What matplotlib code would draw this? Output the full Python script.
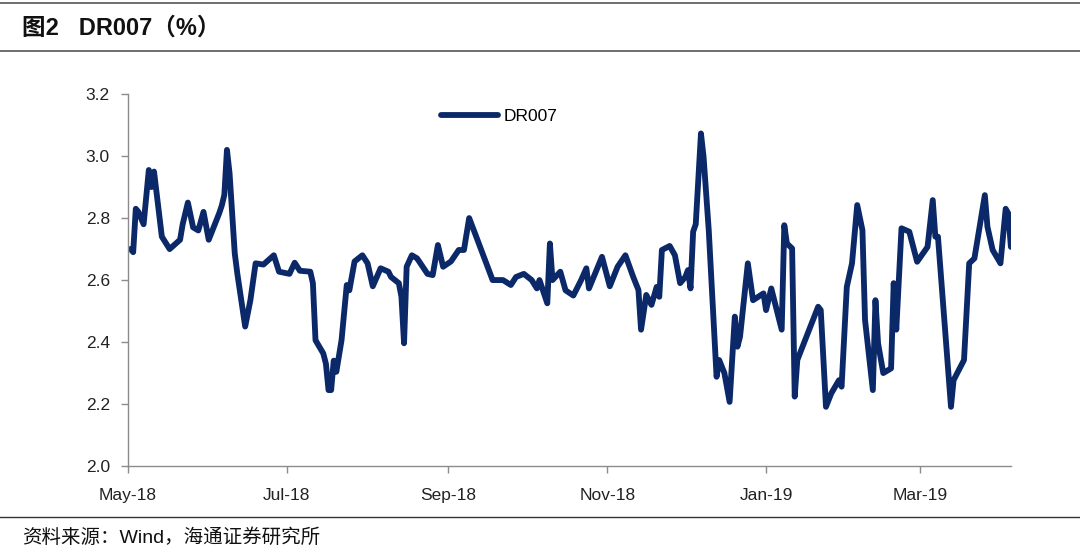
import pandas as pd
import matplotlib.pyplot as plt
import matplotlib.dates as mdates

plt.rcParams['font.family'] = ['Liberation Sans', 'Noto Sans CJK SC', 'DejaVu Sans']

# DR007
dates = [
    '2018-05-02', '2018-05-03', '2018-05-04', '2018-05-05', '2018-05-07', '2018-05-09',
    '2018-05-10', '2018-05-11', '2018-05-14', '2018-05-17', '2018-05-21', '2018-05-22',
    '2018-05-24', '2018-05-26', '2018-05-28', '2018-05-30', '2018-06-01', '2018-06-05',
    '2018-06-06', '2018-06-07', '2018-06-08', '2018-06-09', '2018-06-11', '2018-06-12',
    '2018-06-15', '2018-06-17', '2018-06-19', '2018-06-22', '2018-06-26', '2018-06-28',
    '2018-07-02', '2018-07-04', '2018-07-06', '2018-07-10', '2018-07-11', '2018-07-12',
    '2018-07-15', '2018-07-16', '2018-07-17', '2018-07-18', '2018-07-19', '2018-07-20',
    '2018-07-22', '2018-07-24', '2018-07-25', '2018-07-27', '2018-07-30', '2018-08-01',
    '2018-08-03', '2018-08-06', '2018-08-09', '2018-08-10', '2018-08-13', '2018-08-14',
    '2018-08-15', '2018-08-16', '2018-08-18', '2018-08-20', '2018-08-24', '2018-08-26',
    '2018-08-28', '2018-08-30', '2018-09-02', '2018-09-05', '2018-09-07', '2018-09-09',
    '2018-09-11', '2018-09-18', '2018-09-22', '2018-09-25', '2018-09-27', '2018-09-30',
    '2018-10-03', '2018-10-05', '2018-10-06', '2018-10-09', '2018-10-10', '2018-10-11',
    '2018-10-14', '2018-10-16', '2018-10-19', '2018-10-22', '2018-10-24', '2018-10-25',
    '2018-10-30', '2018-11-02', '2018-11-05', '2018-11-08', '2018-11-11', '2018-11-13',
    '2018-11-14', '2018-11-16', '2018-11-18', '2018-11-20', '2018-11-21', '2018-11-22',
    '2018-11-25', '2018-11-27', '2018-11-29', '2018-12-01', '2018-12-02', '2018-12-03',
    '2018-12-04', '2018-12-05', '2018-12-07', '2018-12-08', '2018-12-10', '2018-12-13',
    '2018-12-14', '2018-12-16', '2018-12-18', '2018-12-20', '2018-12-21', '2018-12-22',
    '2018-12-25', '2018-12-27', '2018-12-31', '2019-01-01', '2019-01-03', '2019-01-07',
    '2019-01-08', '2019-01-09', '2019-01-11', '2019-01-12', '2019-01-13', '2019-01-21',
    '2019-01-22', '2019-01-24', '2019-01-26', '2019-01-29', '2019-01-30', '2019-02-01',
    '2019-02-03', '2019-02-05', '2019-02-07', '2019-02-08', '2019-02-11', '2019-02-12',
    '2019-02-13', '2019-02-15', '2019-02-18', '2019-02-19', '2019-02-20', '2019-02-22',
    '2019-02-25', '2019-02-28', '2019-03-04', '2019-03-06', '2019-03-07', '2019-03-08',
    '2019-03-13', '2019-03-14', '2019-03-18', '2019-03-20', '2019-03-22', '2019-03-26',
    '2019-03-27', '2019-03-29', '2019-04-01', '2019-04-03', '2019-04-04', '2019-04-05',
]
dr007 = [
    2.70, 2.69, 2.83, 2.82, 2.78, 2.955,
    2.90, 2.95, 2.74, 2.70, 2.73, 2.78,
    2.85, 2.77, 2.76, 2.82, 2.73, 2.815,
    2.84, 2.875, 3.02, 2.945, 2.686, 2.62,
    2.45, 2.535, 2.654, 2.65, 2.68, 2.627,
    2.62, 2.656, 2.63, 2.627, 2.59, 2.406,
    2.363, 2.33, 2.245, 2.245, 2.34, 2.304,
    2.406, 2.584, 2.567, 2.66, 2.68, 2.654,
    2.58, 2.638, 2.627, 2.61, 2.59, 2.546,
    2.396, 2.643, 2.68, 2.67, 2.62, 2.616,
    2.713, 2.643, 2.66, 2.697, 2.697, 2.80,
    2.756, 2.60, 2.60, 2.584, 2.61, 2.62,
    2.60, 2.573, 2.60, 2.525, 2.718, 2.60,
    2.627, 2.567, 2.55, 2.60, 2.638, 2.573,
    2.675, 2.58, 2.643, 2.68, 2.61, 2.568,
    2.44, 2.552, 2.52, 2.578, 2.546, 2.697,
    2.71, 2.68, 2.59, 2.61, 2.632, 2.573,
    2.756, 2.78, 3.073, 2.998, 2.76, 2.288,
    2.342, 2.30, 2.207, 2.482, 2.385, 2.417,
    2.654, 2.535, 2.557, 2.503, 2.573, 2.44,
    2.777, 2.718, 2.702, 2.224, 2.342, 2.514,
    2.503, 2.191, 2.234, 2.277, 2.256, 2.578,
    2.654, 2.842, 2.761, 2.471, 2.245, 2.535,
    2.396, 2.30, 2.315, 2.59, 2.44, 2.767,
    2.756, 2.659, 2.707, 2.858, 2.74, 2.74,
    2.191, 2.277, 2.342, 2.654, 2.67, 2.874,
    2.772, 2.697, 2.654, 2.83, 2.815, 2.707,
]
y_ticks = [2.0, 2.2, 2.4, 2.6, 2.8, 3.0, 3.2]

x = pd.to_datetime(dates)
navy = '#0b2868'
axis_grey = '#8c8c8c'

fig = plt.figure(figsize=(10.8, 5.47), dpi=100)
ax = fig.add_axes([0.1185, 0.148, 0.8175, 0.680])

ax.plot(x, dr007, color=navy, lw=4.2, solid_joinstyle='round',
        solid_capstyle='round', label='DR007')

ax.set_ylim(2.0, 3.2)
ax.set_yticks(y_ticks)
ax.set_yticklabels([f'{v:.1f}' for v in y_ticks])
ax.set_xlim(pd.Timestamp('2018-05-01'), pd.Timestamp('2019-04-05'))
ax.xaxis.set_major_locator(mdates.MonthLocator(bymonth=[1, 3, 5, 7, 9, 11]))
ax.xaxis.set_major_formatter(mdates.DateFormatter('%b-%y'))

for side in ['top', 'right']:
    ax.spines[side].set_visible(False)
for side in ['left', 'bottom']:
    ax.spines[side].set_color(axis_grey)
    ax.spines[side].set_linewidth(1.0)
ax.tick_params(axis='both', direction='out', length=5, width=1, color=axis_grey,
               labelsize=12.5, labelcolor='#222222')
ax.tick_params(axis='x', pad=11)
ax.tick_params(axis='y', pad=8)

ax.legend(loc='center left', bbox_to_anchor=(0.337, 0.94), frameon=False,
          fontsize=12.5, handlelength=3.3, handletextpad=0.3)

# title block and source note
fig.add_artist(plt.Line2D([0, 1], [0.995, 0.995], color='#555555', lw=1.2))
fig.add_artist(plt.Line2D([0, 1], [0.906, 0.906], color='#555555', lw=1.2))
fig.text(0.02, 0.949, '图2   DR007（%）', fontsize=17, fontweight='bold',
         va='center', ha='left', color='#111111')
fig.add_artist(plt.Line2D([0, 1], [0.055, 0.055], color='#333333', lw=1.0))
fig.text(0.02, 0.018, '资料来源：Wind，海通证券研究所', fontsize=14,
         va='center', ha='left', color='#111111')

fig.savefig('out.png', dpi=100)
